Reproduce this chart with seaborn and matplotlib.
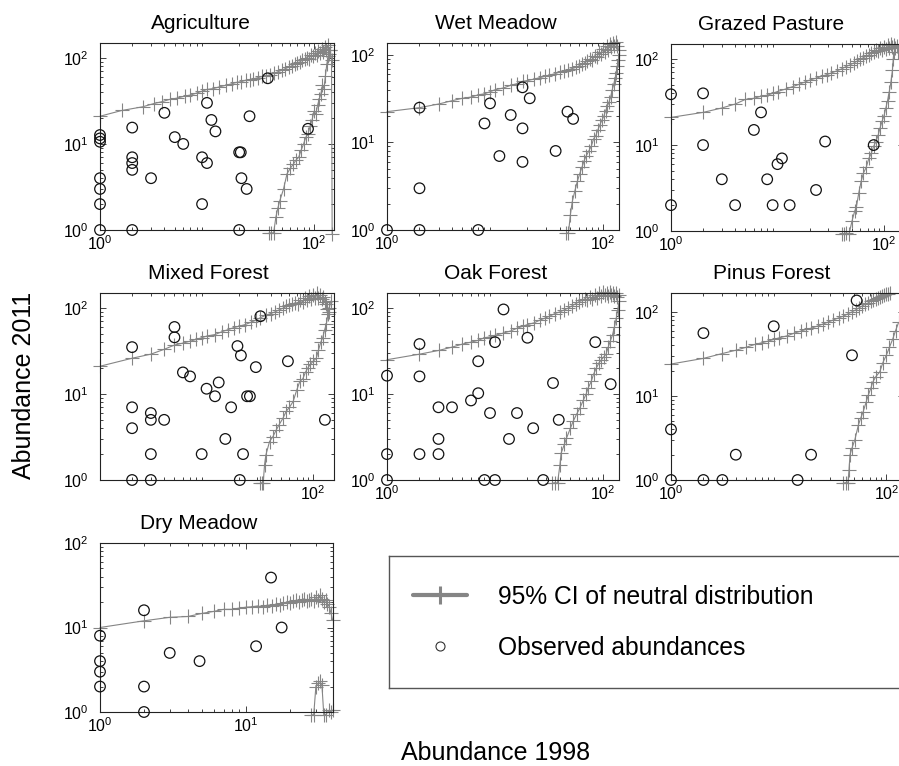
import matplotlib
matplotlib.use("Agg")
import matplotlib.pyplot as plt
from matplotlib.lines import Line2D
from matplotlib.ticker import FixedLocator, LogLocator, NullFormatter
import numpy as np
import seaborn as sns

# ---- observed abundances (1998 vs 2011) and 95% CI of the neutral model ----
agri_obs_x = [1, 1, 1, 1, 1, 1, 1, 2, 2, 2, 2, 2, 3, 4, 5, 6, 9, 10, 9, 10, 11, 12, 20, 20, 20.7, 21, 23.5, 25, 37, 88]
agri_obs_y = [12.7, 11.6, 10.6, 4, 3, 2, 1, 15.5, 7, 6, 5, 1, 4, 23, 12, 10, 7, 6, 2, 30, 19, 14, 1, 8, 8, 4, 3, 21, 58, 15]
agri_hi_x = [1, 1.6, 2.5, 3.2, 3.8, 4.5, 5.2, 6.2, 7, 8, 9, 10, 11.5, 13, 15, 17, 19, 21, 23, 25, 27, 30, 33, 36, 39, 42,
             46, 50, 54, 58, 62, 66, 70, 74, 78, 82, 86, 90, 94, 98, 102, 106, 110, 114, 118, 122, 126, 130, 134, 138,
             142, 146, 148]
agri_hi_y = [21, 24.5, 27, 29.5, 31, 33, 34, 36, 37, 39, 41, 43, 44, 46, 48, 50, 52, 53, 55, 56, 57, 59, 61, 62, 64, 66,
             69, 72, 75, 78, 81, 84, 88, 90, 94, 97, 101, 98, 108, 104, 114, 109, 120, 113, 126, 118, 134, 122, 140, 112,
             125, 95, 0.9]
agri_lo_x = [38, 40, 42, 44, 46, 48, 52, 56, 60, 64, 68, 72, 76, 80, 84, 88, 92, 96, 100, 104, 108, 112, 116, 120, 124,
             128, 132, 136, 140]
agri_lo_y = [0.92, 0.93, 0.92, 1.4, 1.8, 2.2, 3.0, 4.5, 5.2, 5.8, 6.5, 7.0, 8.5, 10, 12, 13, 16, 19, 24, 22, 28, 33, 38,
             48, 44, 62, 85, 105, 125]

wet_obs_x = [1, 2, 2, 2, 7, 8, 9, 11, 14, 18, 18, 18, 21, 36.5, 47, 53]
wet_obs_y = [1, 1, 3, 25, 1, 16.5, 28, 7, 20.6, 42.7, 14.5, 6, 32, 8, 22.5, 18.6]
wet_hi_x = [1, 2, 3, 4, 5, 6, 7, 8, 9, 10, 12, 14, 16, 18, 20, 23, 26, 29, 32, 36, 40, 44, 48, 52, 56, 60, 64, 68, 72,
            76, 80, 84, 88, 92, 96, 100, 104, 108, 112, 116, 120, 124, 128, 132, 136, 140]
wet_hi_y = [22.5, 25, 27.5, 30, 32, 33, 35, 36, 38, 40, 42, 45, 47, 50, 51, 53, 55, 57, 59, 61, 64, 66, 68, 70, 72, 75,
            78, 82, 85, 90, 88, 98, 94, 108, 102, 118, 108, 125, 115, 132, 122, 138, 126, 140, 125, 115]
wet_lo_x = [46, 48, 50, 52, 55, 58, 61, 64, 67, 70, 74, 78, 82, 86, 90, 94, 98, 102, 106, 110, 114, 118, 122, 126, 130,
            133, 136, 139, 142]
wet_lo_y = [0.92, 0.93, 1.5, 2.1, 2.8, 3.6, 4.4, 5.2, 6.2, 7, 8, 9, 11, 12, 14, 16, 18, 20, 23, 26, 29, 33, 40, 46, 55,
            62, 75, 88, 100]

graz_obs_x = [1, 1, 2, 2, 3, 4, 6, 7, 8, 9, 10, 11, 13, 23, 28, 80]
graz_obs_y = [39, 2, 40, 10, 4, 2, 15, 24, 4, 2, 6, 7, 2, 3, 11, 10]
graz_hi_x = [1, 2, 3, 4, 5, 6, 7, 8, 9, 10, 12, 14, 16, 18, 20, 23, 26, 29, 32, 36, 40, 44, 48, 52, 56, 60, 64, 68, 72,
             76, 80, 84, 88, 92, 96, 100, 104, 108, 112, 116, 120, 124, 128, 132, 136]
graz_hi_y = [21, 24, 27, 30, 34, 35, 37, 38, 40, 42, 45, 48, 51, 54, 57, 60, 63, 66, 69, 73, 77, 82, 86, 90, 95, 100,
             104, 108, 112, 118, 122, 128, 124, 134, 128, 140, 132, 145, 135, 150, 140, 148, 135, 142, 120]
graz_lo_x = [40, 42, 44, 47, 50, 53, 55, 58, 61, 64, 68, 72, 76, 80, 84, 88, 92, 96, 100, 104, 108, 112, 116, 120, 122, 124]
graz_lo_y = [0.92, 0.93, 0.95, 0.93, 1.3, 1.7, 1.9, 2.8, 3.8, 4.7, 5.5, 7, 8, 9.7, 11, 13, 16, 19, 22, 27, 33, 42, 54,
             75, 100, 120]

mix_obs_x = [2, 2, 2, 2, 3, 3, 3, 3, 4, 5, 5, 6, 7, 9, 10, 12, 13, 15, 17, 20.5, 19.5, 21, 22, 24, 25.5, 29, 32, 58, 129]
mix_obs_y = [1, 4, 7, 35, 1, 2, 5, 6, 5, 60, 45.5, 17.8, 16, 2, 11.5, 9.4, 13.6, 3, 7, 1, 36, 28, 2, 9.4, 9.4, 20.5, 80,
             24, 5]
mix_hi_x = [1, 2, 3, 4, 5, 6, 7, 8, 9, 10, 12, 14, 16, 18, 20, 23, 26, 29, 32, 36, 40, 44, 48, 52, 56, 60, 64, 68, 72,
            76, 80, 84, 88, 92, 96, 100, 104, 108, 112, 116, 120, 124, 128, 132, 136, 140]
mix_hi_y = [21, 26, 29, 33, 37, 39, 41, 43, 45, 47, 49, 53, 56, 59, 61, 64, 68, 72, 77, 82, 86, 90, 95, 99, 104, 107,
            111, 115, 112, 122, 118, 130, 124, 136, 128, 142, 130, 148, 132, 140, 126, 135, 118, 110, 98, 90]
mix_lo_x = [32, 33, 34, 35, 36, 39, 42, 45, 48, 52, 56, 60, 65, 70, 75, 80, 85, 89, 94, 100, 107, 112, 118, 123, 128,
            133, 138, 142, 146]
mix_lo_y = [0.92, 0.93, 0.92, 1.5, 1.95, 2.8, 3.2, 3.8, 4.4, 5.2, 6.3, 7, 8.2, 11, 14, 15, 18, 20, 22, 24, 26, 32, 40,
            45, 55, 65, 84, 100, 120]

oak_obs_x = [1, 1, 1, 2, 2, 2, 3, 3, 3, 4, 6, 7, 7, 8, 9, 10, 10, 12, 13.5, 16, 20, 22.6, 28, 34.5, 39, 85, 118]
oak_obs_y = [1, 2, 16.3, 2, 16, 38, 2, 3, 7, 7, 8.4, 10.2, 24, 1, 6, 1, 40, 96, 3, 6, 45, 4, 1, 13.4, 5, 40, 13]
oak_hi_x = [1, 2, 3, 4, 5, 6, 7, 8, 9, 10, 12, 14, 16, 18, 20, 23, 26, 29, 32, 36, 40, 44, 48, 52, 56, 60, 64, 68, 72,
            76, 80, 84, 88, 92, 96, 100, 104, 108, 112, 116, 120, 124, 128, 132, 136, 140]
oak_hi_y = [25, 29, 32, 35, 38, 40, 42, 45, 46, 48, 51, 54, 58, 61, 64, 67, 72, 76, 80, 86, 90, 95, 100, 106, 112, 118,
            122, 128, 124, 135, 128, 142, 132, 148, 136, 152, 140, 150, 138, 152, 140, 150, 138, 148, 135, 140]
oak_lo_x = [34, 36, 38, 40, 41, 44, 46, 50, 53, 57, 61, 66, 70, 73, 78, 82, 87, 92, 97, 102, 107, 112, 117, 123, 128,
            133, 137, 142]
oak_lo_y = [0.92, 0.93, 0.92, 1.5, 2.05, 2.6, 3.06, 4, 4.8, 5.8, 6.8, 8.5, 10, 11.7, 14, 17, 20, 23, 25, 27, 29, 35, 41,
            49, 60, 76, 95, 120]

pin_obs_x = [1, 1, 2, 2, 3, 4, 9, 15, 20, 48, 53]
pin_obs_y = [1, 4, 1, 56, 1, 2, 67.5, 1, 2, 30.5, 137]
pin_hi_x = [1, 2, 3, 4, 5, 6, 7, 8, 9, 10, 12, 14, 16, 18, 20, 23, 26, 29, 32, 36, 40, 44, 48, 52, 56, 60, 64, 68, 72,
            76, 80, 84, 88, 92, 96, 100, 104, 108]
pin_hi_y = [24, 28, 32, 35, 38, 41, 43, 45, 47, 49, 52, 56, 59, 62, 64, 68, 72, 76, 80, 85, 89, 95, 100, 106, 112, 118,
            124, 128, 134, 138, 144, 148, 152, 156, 160, 163, 165, 167]
pin_lo_x = [40, 42, 44, 45, 46, 48, 51, 55, 58, 61, 65, 68, 72, 75, 80, 87, 93, 100, 107, 115, 122, 130]
pin_lo_y = [0.92, 0.93, 0.92, 1.3, 2.0, 2.4, 3.0, 4.5, 5.5, 6.5, 8.5, 10.2, 12.5, 14.7, 17, 19.4, 25, 30.5, 38, 48, 60, 75]

dry_obs_x = [1, 1, 1, 1, 2, 2, 2, 3, 4.8, 11.7, 14.8, 17.5]
dry_obs_y = [8, 4, 3, 2, 16, 2, 1, 5, 4, 6, 39, 10]
dry_hi_x = [1, 2, 3, 4, 5, 6, 7, 8, 9, 10, 11, 12, 13, 14, 15, 16, 17, 18, 19, 20, 21, 22, 23, 24, 25, 26, 27, 28, 29,
            30, 31, 32, 33, 34, 35, 36, 37, 38, 39]
dry_hi_y = [10, 12, 13.2, 13.5, 14.7, 15.5, 16.4, 16.4, 17, 17.4, 17.6, 18, 17.4, 18.5, 18, 19, 18.5, 19.5, 20, 19.5,
            20.5, 21, 20, 21, 22, 20.5, 21, 22, 20.5, 23, 21, 24, 22, 20, 21, 19, 17.7, 15, 12.3]
dry_lo_x = [28, 29, 30, 31, 32, 33, 34, 35, 37, 38, 39]
dry_lo_y = [0.93, 0.92, 2.0, 2.2, 2.3, 2.1, 0.92, 0.93, 1.05, 1.0, 1.05]

panel_names = ['Agriculture', 'Wet Meadow', 'Grazed Pasture', 'Mixed Forest', 'Oak Forest', 'Pinus Forest', 'Dry Meadow']
legend_labels = ['95% CI of neutral distribution', 'Observed abundances']

# ---- layout (pixel boxes in the 899x766 picture) ----
W, H = 899, 766
GRAY = '#858585'
panels = [
    # data, box (l, t, r, b), xlim, ylim, x ticks, title x
    ((agri_hi_x, agri_hi_y, agri_lo_x, agri_lo_y, agri_obs_x, agri_obs_y), (100, 43, 334, 230), (1, 154), (1, 149), [1, 100], 0.431),
    ((wet_hi_x, wet_hi_y, wet_lo_x, wet_lo_y, wet_obs_x, wet_obs_y), (387, 43, 619, 230), (1, 141), (1, 137), [1, 100], 0.47),
    ((graz_hi_x, graz_hi_y, graz_lo_x, graz_lo_y, graz_obs_x, graz_obs_y), (671, 44, 904, 231), (1, 154), (1, 150), [1, 100], 0.43),
    ((mix_hi_x, mix_hi_y, mix_lo_x, mix_lo_y, mix_obs_x, mix_obs_y), (100, 293, 334, 480), (1, 157), (1, 149), [100], 0.464),
    ((oak_hi_x, oak_hi_y, oak_lo_x, oak_lo_y, oak_obs_x, oak_obs_y), (387, 293, 619, 480), (1, 141), (1, 149), [1, 100], 0.47),
    ((pin_hi_x, pin_hi_y, pin_lo_x, pin_lo_y, pin_obs_x, pin_obs_y), (671, 293, 904, 480), (1, 146), (1, 168), [1, 100], 0.432),
    ((dry_hi_x, dry_hi_y, dry_lo_x, dry_lo_y, dry_obs_x, dry_obs_y), (100, 543, 333, 712), (1, 39.3), (1, 100), [1, 10], 0.423),
]


def px_rect(l, t, r, b):
    return [l / W, 1 - b / H, (r - l) / W, (b - t) / H]


sns.set_style('ticks')
plt.rcParams['font.family'] = ['Liberation Sans', 'DejaVu Sans']
plt.rcParams['mathtext.fontset'] = 'custom'
plt.rcParams['mathtext.rm'] = 'Liberation Sans'
plt.rcParams['mathtext.it'] = 'Liberation Sans:italic'
plt.rcParams['mathtext.bf'] = 'Liberation Sans:bold'
for key in ('text.color', 'axes.labelcolor', 'xtick.labelcolor', 'ytick.labelcolor'):
    plt.rcParams[key] = 'black'

fig = plt.figure(figsize=(W / 100, H / 100), dpi=100)

for name, (data, box, xlim, ylim, xticks, title_x) in zip(panel_names, panels):
    hx, hy, lx, ly, ox, oy = data
    ax = fig.add_axes(px_rect(*box))
    for cx, cy in ((hx, hy), (lx, ly)):
        sns.lineplot(x=cx, y=cy, ax=ax, sort=False, estimator=None, color=GRAY, lw=0.8,
                     marker='+', markersize=10, markeredgewidth=0.8, markeredgecolor=GRAY, clip_on=False)
    sns.scatterplot(x=ox, y=oy, ax=ax, s=58, marker='o', facecolors='none', edgecolor='#111111',
                    linewidth=0.9, clip_on=False, zorder=3)
    ax.set_xscale('log')
    ax.set_yscale('log')
    ax.set_xlim(*xlim)
    ax.set_ylim(*ylim)
    ax.xaxis.set_major_locator(FixedLocator(xticks))
    ax.yaxis.set_major_locator(FixedLocator([1, 10, 100]))
    for axis in (ax.xaxis, ax.yaxis):
        axis.set_minor_locator(LogLocator(base=10, subs=np.arange(2, 10), numticks=30))
        axis.set_minor_formatter(NullFormatter())
    ax.tick_params(which='both', direction='in', top=True, right=True, color='#222222', width=0.6,
                   labelcolor='black')
    ax.tick_params(which='major', length=4)
    ax.tick_params(which='minor', length=2)
    ax.tick_params(axis='x', pad=3, labelsize=11.5)
    ax.tick_params(axis='y', pad=8, labelsize=11.5)
    for s in ax.spines.values():
        s.set_color('#222222')
        s.set_linewidth(0.8)
    ax.set_xlabel('')
    ax.set_ylabel('')
    ax.set_title(name, fontsize=15, pad=10, x=title_x, color='black')

# legend box
lax = fig.add_axes(px_rect(389, 556, 915, 688))
lax.set_xticks([])
lax.set_yticks([])
for s in lax.spines.values():
    s.set_color('#555555')
    s.set_linewidth(1.0)
handles = [
    Line2D([], [], color=GRAY, lw=3, marker='+', markersize=13, markeredgewidth=2.2, markeredgecolor=GRAY),
    Line2D([], [], ls='', marker='o', markerfacecolor='none', markeredgecolor='#333333', markersize=6.5,
           markeredgewidth=0.8),
]
lax.legend(handles, legend_labels, loc='upper left', bbox_to_anchor=(413 / W, 1 - 585 / H),
           bbox_transform=fig.transFigure, frameon=False, fontsize=17.7, handlelength=2.2,
           handletextpad=1.25, labelspacing=1.1, borderpad=0, borderaxespad=0, labelcolor='black')

fig.text(496 / W, 1 - 753 / H, 'Abundance 1998', ha='center', va='center', fontsize=18, color='black')
fig.text(24 / W, 1 - 385 / H, 'Abundance 2011', ha='center', va='center', rotation=90, fontsize=18,
         color='black')

fig.savefig('out.png', dpi=100)
